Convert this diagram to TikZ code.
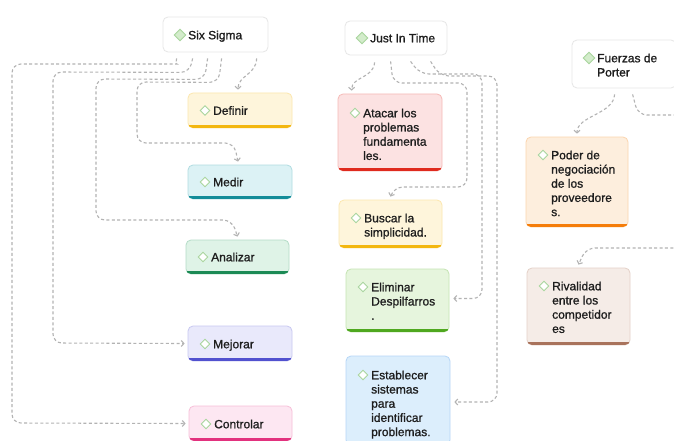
\documentclass[tikz,border=0pt]{standalone}
\usepackage{fontspec}
\setmainfont{Liberation Sans}
\newfontfamily\cardfont{Liberation Sans}[FakeBold=1.0]
\usetikzlibrary{shapes.geometric,arrows.meta,calc}

\definecolor{lnk}{HTML}{B3B3B3}
\definecolor{ink}{HTML}{1E1E1E}
\definecolor{rootline}{HTML}{E6E6E6}
\definecolor{icoL}{HTML}{A9D59E}
\definecolor{icoF}{HTML}{D3ECCB}
\definecolor{defF}{HTML}{FEF5DB} \definecolor{defB}{HTML}{F3B70F}
\definecolor{medF}{HTML}{DCF2F5} \definecolor{medB}{HTML}{138C99}
\definecolor{anaF}{HTML}{DFF3E7} \definecolor{anaB}{HTML}{1B8A55}
\definecolor{mejF}{HTML}{E9E9FB} \definecolor{mejB}{HTML}{5151CF}
\definecolor{conF}{HTML}{FDE7F2} \definecolor{conB}{HTML}{E2327E}
\definecolor{ataF}{HTML}{FCE2E2} \definecolor{ataB}{HTML}{DF2A1E}
\definecolor{busF}{HTML}{FEF5DB} \definecolor{busB}{HTML}{F3B70F}
\definecolor{eliF}{HTML}{E6F5DD} \definecolor{eliB}{HTML}{4FA81F}
\definecolor{estF}{HTML}{DCEEFC} \definecolor{estB}{HTML}{2F7FE6}
\definecolor{podF}{HTML}{FDEEDD} \definecolor{podB}{HTML}{F57D0A}
\definecolor{rivF}{HTML}{F5ECE7} \definecolor{rivB}{HTML}{A9735C}

\tikzset{
  card/.style={rectangle, rounded corners=5pt, inner sep=0pt, line width=0.8pt},
  cardtext/.style={inner sep=0pt, text=ink, font=\cardfont\fontsize{12}{14.2}\selectfont},
  icon/.style={diamond, draw=icoL, line width=0.9pt, inner sep=0pt,
    minimum width=10pt, minimum height=10pt, fill=white},
  rooticon/.style={icon, fill=icoF, minimum width=12pt, minimum height=12pt},
  link/.style={draw=lnk, line width=1.1pt, dash pattern=on 3pt off 2.4pt,
    rounded corners=9pt, -{Straight Barb[length=2.6pt,width=6pt]}}
}

% colored child card: name, x1, y1, x2, y2, colour prefix, (unused), text, first-line centre
\newcommand\card[9]{%
  \node[card, fill=#6F, draw=#6B!22!#6F, minimum width={(#4-#2)*1pt},
        minimum height={(#5-#3)*1pt}] (#1) at ({(#2+#4)/2},{(#3+#5)/2}) {};
  \begin{scope}
    \clip[rounded corners=5pt] (#2,#3) rectangle (#4,#5);
    \fill[#6B] ({#2},{#5-3}) rectangle ({#4},{#5});
  \end{scope}
  \node[icon] (#1-i) at ({#2+17},{#9}) {};
  \node[cardtext, anchor=base west] (#1-t) at ({#2+25},{#9+4.3})
    {\parbox[t]{90pt}{\raggedright #8}};
}

% white root card: name, x1, y1, x2, y2, text, first-line centre
\newcommand\rootcard[7]{%
  \node[card, fill=white, draw=rootline, minimum width={(#4-#2)*1pt},
        minimum height={(#5-#3)*1pt}] (#1) at ({(#2+#4)/2},{(#3+#5)/2}) {};
  \node[rooticon] (#1-i) at ({#2+17},{#7}) {};
  \node[cardtext, anchor=base west] (#1-t) at ({#2+25},{#7+4.3})
    {\parbox[t]{90pt}{\raggedright #6}};
}

\begin{document}
\begin{tikzpicture}[x=1pt,y=-1pt]
  \useasboundingbox (0,0) rectangle (674,441);
  \clip (0,0) rectangle (674,441);
  \fill[white] (0,0) rectangle (674,441);

  % roots
  \rootcard{ss}{163}{17}{268}{52}{Six Sigma}{35}
  \rootcard{jit}{345}{21}{447}{55}{Just In Time}{38}
  \rootcard{fp}{572}{40}{676}{88}{Fuerzas de\\Porter}{58}

  % Six Sigma branch
  \card{def}{188}{93}{292}{128}{def}{}{Definir}{110.5}
  \card{med}{188}{165}{292}{199}{med}{}{Medir}{182}
  \card{ana}{186}{240}{289}{274}{ana}{}{Analizar}{257}
  \card{mej}{188}{326}{292}{361}{mej}{}{Mejorar}{344}
  \card{con}{189}{406}{292}{441}{con}{}{Controlar}{424}

  % Just In Time branch
  \card{ata}{338}{94}{442}{171}{ata}{}{Atacar los\\problemas\\fundamenta\\les.}{113}
  \card{bus}{339}{200}{442}{248}{bus}{}{Buscar la\\simplicidad.}{218}
  \card{eli}{346}{269}{449}{332}{eli}{}{Eliminar\\Despilfarros\\.}{287}
  \card{est}{346}{356}{450}{445}{est}{}{Establecer\\sistemas\\para\\identificar\\problemas.}{375}

  % Porter branch
  \card{pod}{526}{137}{628}{227}{pod}{}{Poder de\\negociación\\de los\\proveedore\\s.}{155}
  \card{riv}{527}{268}{630}{345}{riv}{}{Rivalidad\\entre los\\competidor\\es}{286}

  % Six Sigma links
  \draw[link] ($(ss.south west)+(94,6)$) .. controls +(0,16) and +(0,-14) .. ($(def.north)+(-2,-3)$);
  \draw[link] ($(ss.south west)+(59,6)$) -- ($(ss.south west)+(56,30)$) -- (137,82) -- (137,143)
    -- (234,143) -- ($(med.north)+(-2,-3)$);
  \draw[link] ($(ss.south west)+(45,6)$) -- ($(ss.south west)+(42,27)$) -- (96,79) -- (96,220)
    -- (232,220) -- ($(ana.north)+(0,-3)$);
  \draw[link] ($(ss.south west)+(30,6)$) -- ($(ss.south west)+(27,20)$) -- (53,72) -- (53,343)
    -- ($(mej.west)+(-3,0)$);
  \draw[link] ($(ss.south west)+(14,6)$) .. controls +(0,5) and +(6,0) .. (168,64) -- (12,64)
    -- (12,423) -- ($(con.west)+(-3,0)$);

  % Just In Time links
  \draw[link] ($(jit.south west)+(30,7)$) .. controls +(-1,16) and +(0,-14) .. ($(ata.north west)+(14,-3)$);
  \draw[link] ($(jit.south west)+(46,6)$) -- (393,83) -- (467,83) -- (467,187) -- (394,187)
    -- ($(bus.north)+(0,-3)$);
  \draw[link] ($(jit.south west)+(66,6)$) -- (420,74) -- (482,74) -- (482,298.5)
    -- ($(eli.east)+(4,-2)$);
  \draw[link] ($(jit.south west)+(86,6)$) -- (440,76) -- (497,76) -- (497,402)
    -- ($(est.east)+(4,1.5)$);

  % Porter links
  \draw[link] ($(fp.south west)+(43,6)$) .. controls +(-1,20) and +(0,-18) .. ($(pod.north)+(0,-3)$);
  \draw[link] ($(fp.south west)+(61,6)$) -- (638,115) -- (700,115) -- (700,248) -- (586,248)
    -- ($(riv.north)+(0,-3)$);
\end{tikzpicture}
\end{document}
